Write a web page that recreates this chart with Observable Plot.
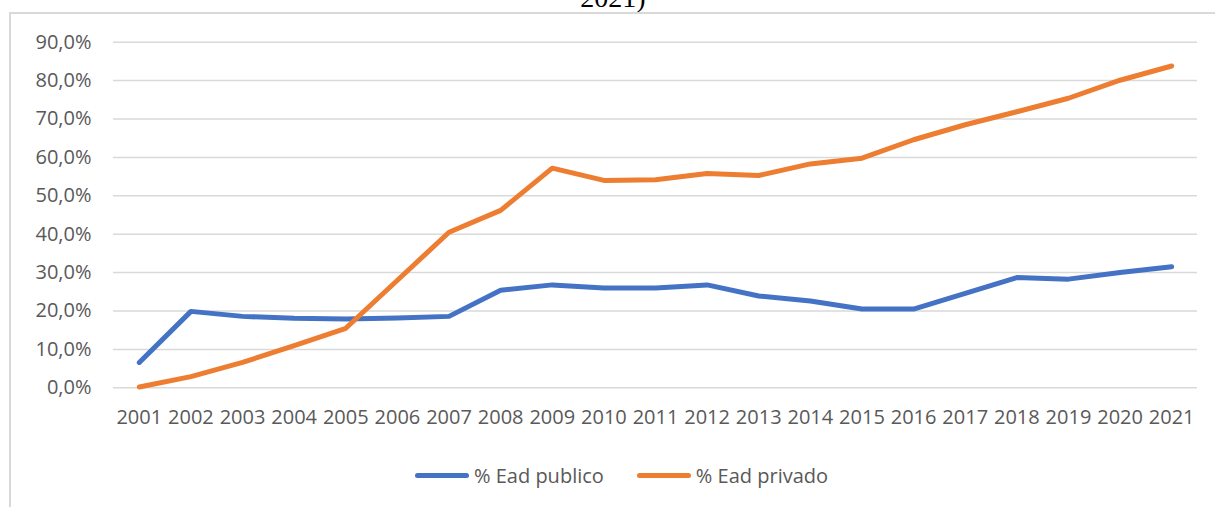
<!DOCTYPE html>
<html>
<head>
<meta charset="utf-8">
<script src="https://cdn.jsdelivr.net/npm/d3@7"></script>
<script src="https://cdn.jsdelivr.net/npm/@observablehq/plot@0.6"></script>
<style>
  html, body { margin: 0; padding: 0; background: #fff; }
  #wrap { position: relative; width: 1215px; height: 507px; overflow: hidden; background: #fff; }
  #title {
    position: absolute; left: 0; width: 1226px; top: -16px;
    text-align: center; font: 28px/28px "Liberation Serif", "Times New Roman", serif; color: #000;
  }
  #frame {
    position: absolute; left: 9px; top: 12px; width: 1240px; height: 520px;
    border: 2px solid #d9d9d9; box-sizing: border-box;
  }
  #chart { position: absolute; left: 0; top: 0; }
  #legend {
    position: absolute; left: 415px; top: 462px; display: flex; align-items: center;
    font: 20px "Open Sans", sans-serif; color: #595959;
  }
  .item { display: flex; align-items: center; margin-right: 33px; }
  .swatch { width: 54px; height: 5px; border-radius: 3px; margin-right: 5px; }
</style>
</head>
<body>
<div id="wrap">
  <div id="title">2021)</div>
  <div id="frame"></div>
  <div id="chart"></div>
  <div id="legend"></div>
</div>
<script>
// Share of distance-learning (EaD) enrolments, public vs private, 2001–2021
const years = ["2001","2002","2003","2004","2005","2006","2007","2008","2009","2010","2011",
               "2012","2013","2014","2015","2016","2017","2018","2019","2020","2021"];
const publico = [0.066, 0.199, 0.186, 0.181, 0.179, 0.182, 0.186, 0.254, 0.268, 0.260, 0.260,
                 0.268, 0.239, 0.226, 0.205, 0.205, 0.246, 0.287, 0.283, 0.300, 0.315];
const privado = [0.002, 0.029, 0.066, 0.110, 0.155, 0.280, 0.405, 0.462, 0.572, 0.540, 0.542,
                 0.558, 0.553, 0.583, 0.598, 0.646, 0.685, 0.719, 0.754, 0.801, 0.838];
const seriesNames = ["% Ead publico", "% Ead privado"];
const seriesColors = ["#4472C4", "#ED7D31"];
const yTicks = [0, 0.1, 0.2, 0.3, 0.4, 0.5, 0.6, 0.7, 0.8, 0.9];

const rows = [publico, privado].flatMap((vals, s) =>
  years.map((year, i) => ({ year, value: vals[i], serie: seriesNames[s] })));

const pct = d => (d * 100).toFixed(1).replace(".", ",") + "%";

const chart = Plot.plot({
  width: 1215,
  height: 440,
  marginLeft: 113,
  marginRight: 18,
  marginTop: 41.7,
  marginBottom: 52.7,
  style: { fontFamily: "'Open Sans', sans-serif", fontSize: "20px", color: "#595959", background: "transparent", overflow: "visible" },
  x: { type: "point", domain: years, padding: 0.5, round: false, label: null, tickSize: 0, tickPadding: 22 },
  y: { domain: [0, 0.9], ticks: yTicks, tickFormat: pct, label: null, tickSize: 0, tickPadding: 22 },
  color: { domain: seriesNames, range: seriesColors },
  marks: [
    Plot.ruleY(yTicks, { stroke: "#d9d9d9", strokeWidth: 1.5 }),
    Plot.line(rows, {
      x: "year", y: "value", z: "serie", stroke: "serie",
      strokeWidth: 5, strokeLinejoin: "round", strokeLinecap: "round"
    })
  ]
});
document.getElementById("chart").append(chart);

// Legend below the plot
const legend = document.getElementById("legend");
seriesNames.forEach((name, i) => {
  const item = document.createElement("div");
  item.className = "item";
  const sw = document.createElement("div");
  sw.className = "swatch";
  sw.style.background = seriesColors[i];
  const label = document.createElement("span");
  label.textContent = name;
  item.append(sw, label);
  legend.append(item);
});
</script>
</body>
</html>
